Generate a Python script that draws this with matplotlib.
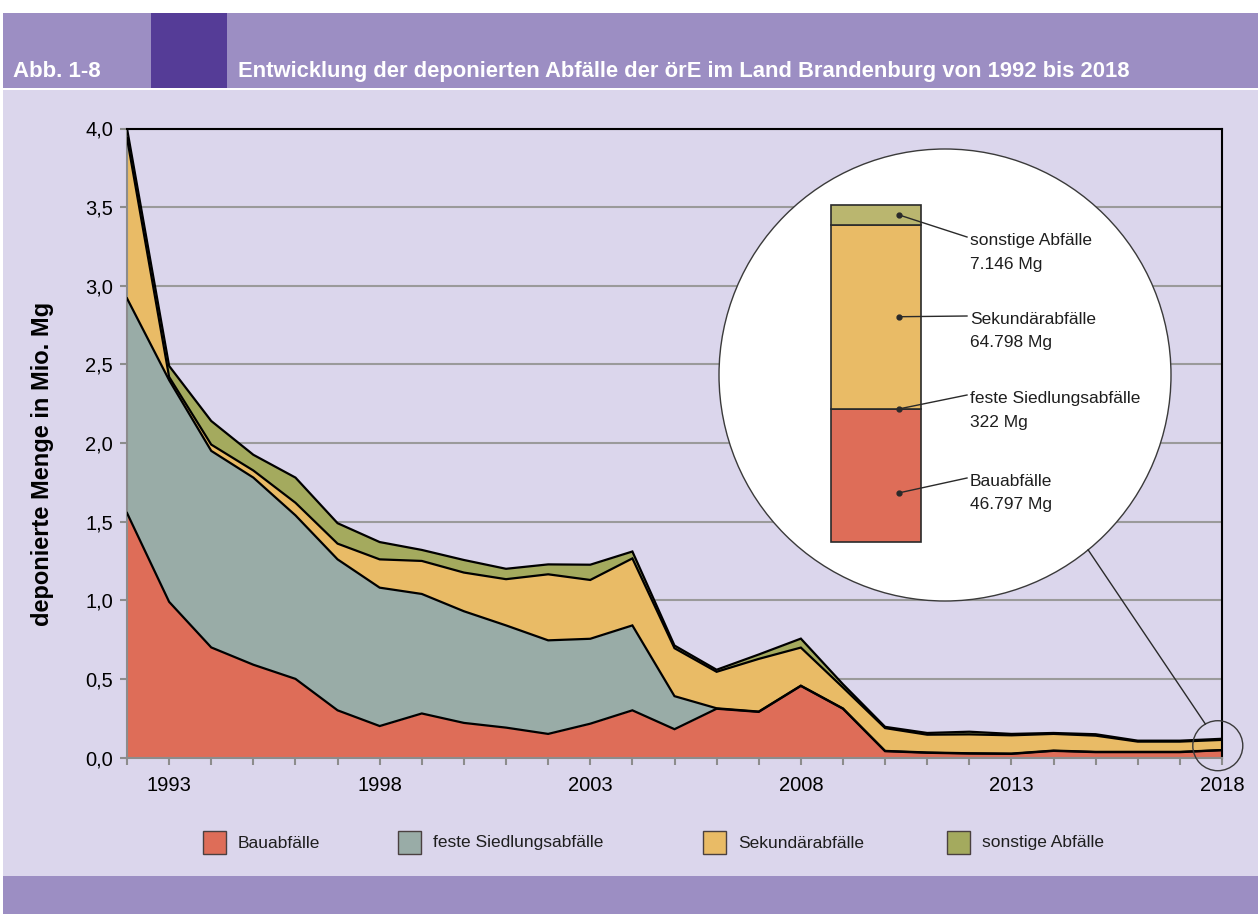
import numpy as np
import matplotlib
matplotlib.use('Agg')
import matplotlib.pyplot as plt
from matplotlib.patches import Rectangle, Circle

plt.rcParams['font.family'] = ['Liberation Sans', 'DejaVu Sans']

# Daten (Mio. Mg)
jahre = list(range(1992, 2019))
bau = [1.555, 0.99, 0.70, 0.59, 0.50, 0.30, 0.20, 0.28, 0.22, 0.19, 0.15, 0.215, 0.30, 0.18,
       0.31, 0.29, 0.455, 0.31, 0.04, 0.03, 0.025, 0.023, 0.042, 0.034, 0.034, 0.034, 0.046797]
feste = [1.365, 1.41, 1.25, 1.19, 1.04, 0.96, 0.88, 0.76, 0.71, 0.65, 0.595, 0.54, 0.54, 0.21,
         0.003, 0.002, 0.002, 0.002, 0.002, 0.002, 0.002, 0.002, 0.002, 0.002, 0.002, 0.002, 0.000322]
sek = [1.02, 0.02, 0.04, 0.045, 0.08, 0.10, 0.18, 0.21, 0.246, 0.294, 0.42, 0.374, 0.426, 0.305,
       0.232, 0.335, 0.242, 0.133, 0.145, 0.113, 0.12, 0.116, 0.106, 0.103, 0.065, 0.065, 0.064798]
sonst = [0.06, 0.07, 0.15, 0.10, 0.16, 0.13, 0.11, 0.07, 0.08, 0.066, 0.063, 0.097, 0.044, 0.017,
         0.013, 0.028, 0.057, 0.021, 0.008, 0.011, 0.017, 0.009, 0.006, 0.009, 0.006, 0.006, 0.007146]
namen = ['Bauabfälle', 'feste Siedlungsabfälle', 'Sekundärabfälle', 'sonstige Abfälle']
farben = ['#DE6D58', '#99ACA7', '#E9BB66', '#A4AA5E']
x_ticks = [1993, 1998, 2003, 2008, 2013, 2018]
y_ticks = [0, 0.5, 1.0, 1.5, 2.0, 2.5, 3.0, 3.5, 4.0]

# Einzelwerte 2018 in Mg (Kreis)
werte_2018 = [46797, 322, 64798, 7146]
farben_2018 = ['#DE6D58', '#99ACA7', '#E9BB66', '#BAB66F']

titel = 'Entwicklung der deponierten Abfälle der örE im Land Brandenburg von 1992 bis 2018'

W, H = 1258, 914
fig = plt.figure(figsize=(W / 100, H / 100), dpi=100, facecolor='white')

# Hintergrund, Kopf- und Fussleiste
bg = fig.add_axes([0, 0, 1, 1])
bg.set_xlim(0, W)
bg.set_ylim(H, 0)
bg.axis('off')
bg.add_patch(Rectangle((3, 13), W - 3, 75, color='#9C8EC3', lw=0))
bg.add_patch(Rectangle((151, 13), 76, 75, color='#553C97', lw=0))
bg.add_patch(Rectangle((3, 90), W - 3, 786, color='#DBD6EC', lw=0))
bg.add_patch(Rectangle((3, 876), W - 3, H - 876, color='#9C8EC3', lw=0))
bg.text(13, 77, 'Abb. 1-8', color='white', fontsize=16, fontweight='bold', va='baseline')
bg.text(238, 77, titel, color='white', fontsize=15.8, fontweight='bold', va='baseline')

# Hauptdiagramm
ax = fig.add_axes([127 / W, 1 - 757.5 / H, 1095 / W, 629 / H])
ax.set_facecolor('none')
ax.set_axisbelow(True)
ax.yaxis.grid(True, color='#9A9A9A', lw=1.5)

unten = np.zeros(len(jahre))
for werte, farbe in zip([bau, feste, sek, sonst], farben):
    oben = unten + np.array(werte)
    ax.fill_between(jahre, unten, oben, color=farbe, lw=0, zorder=2)
    ax.plot(jahre, oben, color='black', lw=1.6, zorder=3, solid_joinstyle='miter')
    unten = oben

ax.set_xlim(1992, 2018)
ax.set_ylim(0, 4)
ax.set_xticks(x_ticks)
ax.set_xticks(jahre, minor=True)
ax.set_yticks(y_ticks)
ax.set_yticklabels([f'{v:.1f}'.replace('.', ',') for v in y_ticks])
ax.tick_params(axis='both', which='both', direction='out', length=5, width=1.5,
               color='#8C8C8C', labelsize=14.5)
ax.tick_params(axis='x', pad=8)
ax.tick_params(axis='y', pad=5)
for s in ['top', 'right']:
    ax.spines[s].set_color('black')
    ax.spines[s].set_linewidth(1.5)
for s in ['left', 'bottom']:
    ax.spines[s].set_color('#8C8C8C')
    ax.spines[s].set_linewidth(1.5)
ax.set_ylabel('deponierte Menge in Mio. Mg', fontsize=17, fontweight='bold')
ax.yaxis.label.set_va('center')
ax.yaxis.set_label_coords(-(127 - 43) / 1095, (757.5 - 463.5) / 629)

# Overlay fuer Kreis, Legende
ov = fig.add_axes([0, 0, 1, 1])
ov.set_xlim(0, W)
ov.set_ylim(H, 0)
ov.axis('off')
ov.set_zorder(5)

def in_ov(trans, pt):
    return ov.transData.inverted().transform(trans.transform(pt))

gross = (945, 375)
r_gross = 226
ov.add_patch(Circle(gross, r_gross, facecolor='white', edgecolor='#3A3A3A', lw=1))
klein = in_ov(ax.transData, (jahre[-1] - 0.1, 0.075))
r_klein = 25
ov.add_patch(Circle(klein, r_klein, facecolor='none', edgecolor='#3A3A3A', lw=1))
a1 = np.deg2rad(50.7)
a2 = np.deg2rad(240.2)
ov.plot([gross[0] + r_gross * np.cos(a1), klein[0] + r_klein * np.cos(a2)],
        [gross[1] + r_gross * np.sin(a1), klein[1] + r_klein * np.sin(a2)],
        color='#2A2A2A', lw=1)

# Saeule 2018
ax_in = fig.add_axes([830.7 / W, 1 - 542 / H, 90.6 / W, 337.3 / H])
ax_in.set_zorder(6)
ax_in.axis('off')
ax_in.set_xlim(-0.5, 0.5)
ax_in.set_ylim(0, sum(werte_2018))
basis = 0
punkte = []
for i, (v, f) in enumerate(zip(werte_2018, farben_2018)):
    ax_in.bar(0, v, bottom=basis, width=1, color=f, edgecolor='#2A2A2A', lw=1.2, clip_on=False)
    anteil = 0.37 if i == 0 else 0.5
    punkte.append(basis + v * anteil)
    basis += v

# Beschriftung ueber der Saeule
ov2 = fig.add_axes([0, 0, 1, 1])
ov2.set_xlim(0, W)
ov2.set_ylim(H, 0)
ov2.axis('off')
ov2.set_zorder(7)

label_y = [478, 395, 316, 237]
for name, v, py, ly in zip(namen, werte_2018, punkte, label_y):
    px, pyy = ov2.transData.inverted().transform(ax_in.transData.transform((0.25, py)))
    ov2.plot([px, 967], [pyy, ly], color='#2A2A2A', lw=1)
    ov2.plot(px, pyy, 'o', color='#2A2A2A', ms=3.5)
    ov2.text(970, ly + 3, name, fontsize=12.5, color='#1E1E1E', va='center')
    ov2.text(970, ly + 27, f'{v:,} Mg'.replace(',', '.'), fontsize=12.5, color='#1E1E1E',
             va='center')

# Legende
leg_x = [203, 398, 703, 947]
for x, name, farbe in zip(leg_x, namen, farben):
    ov.add_patch(Rectangle((x, 831), 23, 23, facecolor=farbe, edgecolor='#4A4040', lw=1))
    ov.text(x + 35, 843, name, fontsize=12.5, color='#1E1E1E', va='center')

fig.savefig('out.png', dpi=100)
